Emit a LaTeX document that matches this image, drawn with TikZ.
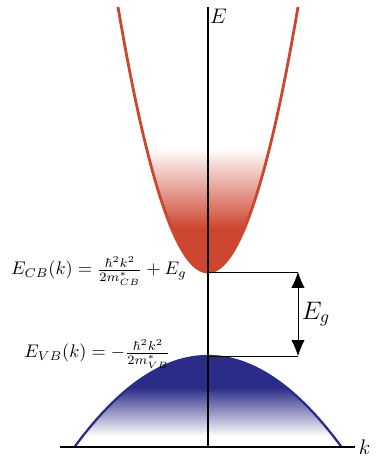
\documentclass[tikz,border=0pt]{standalone}
\usepackage{amsmath,amssymb}
\usepackage{xcolor}
\usepackage{tikz}
\usetikzlibrary{arrows.meta}
\definecolor{cbred}{RGB}{205,70,48}
\definecolor{vbblue}{RGB}{42,44,135}

\begin{document}
\begin{tikzpicture}[x=0.02cm, y=-0.02cm]
        \useasboundingbox (0,0) rectangle (375,456);
        % axes points
        \coordinate (origin) at (208,447);
        \coordinate (Etop) at (208,7);
        \coordinate (kleft) at (60,447);
        \coordinate (kright) at (355,447);
        \coordinate (cbmin) at (208,272);
        \coordinate (vbmax) at (208,356);
        \coordinate (cbend) at (298,272);
        \coordinate (vbend) at (298,356);

        % conduction band
        \begin{scope}
            \clip plot[domain=-90:90, samples=60] ({208+\x},{272-265*(\x/90)^2});
            \fill[cbred] (100,228) rectangle (320,280);
            \shade[top color=white, bottom color=cbred] (100,148) rectangle (320,228.5);
        \end{scope}
        \draw[cbred, line width=1.6pt] plot[domain=-90:90, samples=60] ({208+\x},{272-265*(\x/90)^2});

        % valence band
        \begin{scope}
            \clip plot[domain=-133.5:133.5, samples=60] ({208+\x},{356+91*(\x/133.5)^2}) -- cycle;
            \fill[vbblue] (60,350) rectangle (360,388);
            \shade[top color=vbblue, bottom color=white] (60,387.5) rectangle (360,436);
        \end{scope}
        \draw[vbblue, line width=1.3pt] plot[domain=-133.5:133.5, samples=60] ({208+\x},{356+91*(\x/133.5)^2});

        % axes
        \draw[thick] (kleft) -- (kright);
        \draw[thick] (origin) -- (Etop);
        \node[anchor=north west, inner sep=1pt, font=\large] (Elabel) at (Etop) {$E$};
        \node[right, inner sep=2pt, font=\large] (klabel) at (kright) {$k$};

        % band gap
        \draw (cbmin) -- (cbend);
        \draw (vbmax) -- (vbend);
        \draw[{Latex[length=9pt,width=7.5pt]}-{Latex[length=9pt,width=7.5pt]}] (cbend) -- (vbend)
            node[midway, right, inner sep=2pt, font=\Large] (Eglabel) {$E_g$};

        % band labels
        \node[anchor=east, inner sep=0pt, scale=1.04] (cblabel) at (187,271) {$E_{CB}(k) = \frac{\hbar^2k^2}{2m^*_{CB}} + E_g$};
        \node[anchor=east, inner sep=0pt, scale=1.04] (vblabel) at (171,354) {$E_{VB}(k) = -\frac{\hbar^2k^2}{2m^*_{VB}}$};
    \end{tikzpicture}
\end{document}
